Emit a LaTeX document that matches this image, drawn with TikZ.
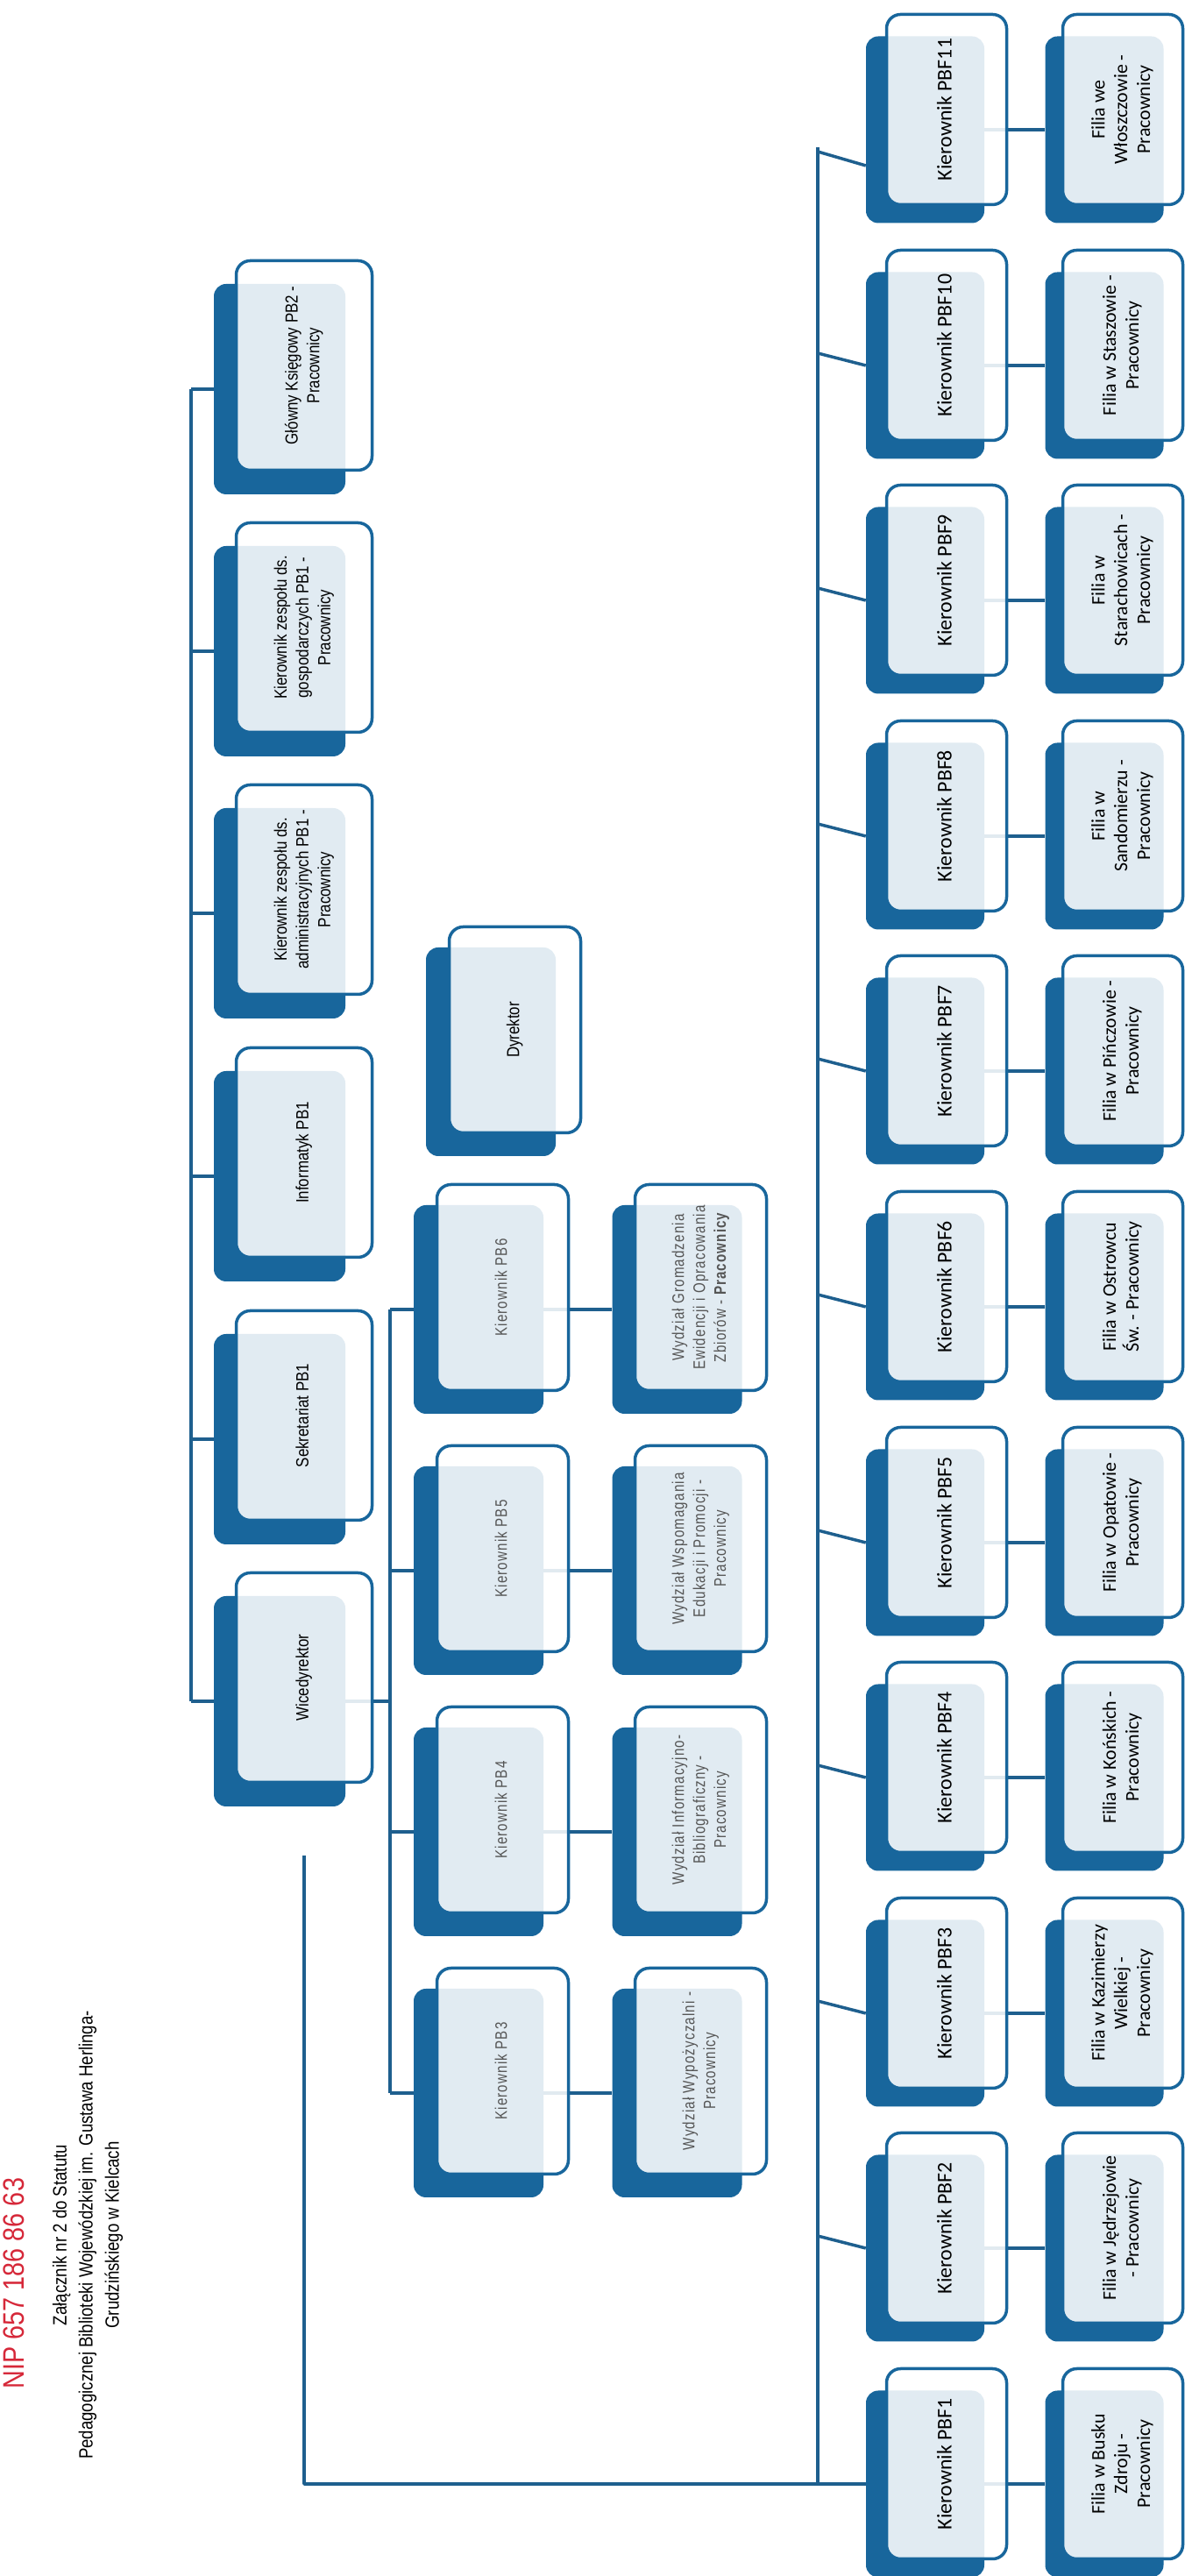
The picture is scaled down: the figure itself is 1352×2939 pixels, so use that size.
\documentclass[tikz,border=0pt]{standalone}
\usepackage{fontspec}
\setmainfont{Liberation Sans}
\newfontfamily\narrowfont[FakeStretch=0.85]{Liberation Sans}
\newfontfamily\thinfont[FakeStretch=0.8,LetterSpace=6]{Liberation Sans}
\newfontfamily\calibfont{Carlito}
\usepackage{graphicx}
\usepackage{tikz}

\definecolor{boxblue}{RGB}{24,102,156}
\definecolor{linkblue}{RGB}{30,95,142}
\definecolor{nipred}{RGB}{214,40,57}
\definecolor{thingray}{RGB}{85,85,85}
\newcommand{\vlab}[1]{\rotatebox{90}{\begin{tabular}{@{}c@{}}#1\end{tabular}}}

\begin{document}
\begin{tikzpicture}[line join=bevel,
  link/.style={draw=linkblue, line width=3.5bp},
  back/.style={fill=boxblue, rounded corners=14bp, inner sep=0pt},
  front/.style={draw=boxblue, line width=3.5bp, fill=white, fill opacity=0.87,
    draw opacity=1, text opacity=1, rounded corners=16bp, inner sep=0pt},
  topback/.style={back, minimum width=150bp, minimum height=240bp},
  topfront/.style={front, minimum width=155bp, minimum height=239bp,
    font=\narrowfont\fontsize{20}{25}\selectfont, text=black},
  pbback/.style={back, minimum width=148bp, minimum height=238bp},
  pbfront/.style={front, minimum width=150bp, minimum height=235bp,
    font=\thinfont\fontsize{19}{24}\selectfont, text=thingray},
  pbfback/.style={back, minimum width=135bp, minimum height=213bp},
  pbffront/.style={front, minimum width=137bp, minimum height=217bp,
    font=\calibfont\fontsize{24}{28}\selectfont, text=black},
  filfront/.style={pbffront, font=\calibfont\fontsize{22}{26}\selectfont}]
\useasboundingbox (0bp,0bp) rectangle (1352bp,2939bp);
%%
\begin{scope}
  \fill[white] (0bp,0bp) -- (0bp,2939bp) -- (1352bp,2939bp) -- (1352bp,0bp) -- cycle;
\end{scope}
%%
  % Header
  \node[rotate=90, font=\narrowfont\fontsize{34}{40}\selectfont, text=nipred] (nip) at (16bp,334bp) {NIP 657 186 86 63};
  \node[rotate=90, align=center, font=\narrowfont\fontsize{22}{30}\selectfont] (zal) at (100bp,389bp)
    {Załącznik nr 2 do Statutu\\Pedagogicznej Biblioteki Wojewódzkiej im. Gustawa Herlinga-\\Grudzińskiego w Kielcach};
%%
  % Back boxes
  % Node: gksieg
  \node[topback] (gksiegb) at (319bp,2495bp) {};
  % Node: kgosp
  \node[topback] (kgospb) at (319bp,2196bp) {};
  % Node: kadm
  \node[topback] (kadmb) at (319bp,1897bp) {};
  % Node: inf
  \node[topback] (infb) at (319bp,1597bp) {};
  % Node: sekr
  \node[topback] (sekrb) at (319bp,1297bp) {};
  % Node: wicedyr
  \node[topback] (wicedyrb) at (319bp,998bp) {};
  % Node: dyr
  \node[pbback] (dyrb) at (560bp,1739bp) {};
  % Node: kpb6 .. kpb3
  \node[pbback] (kpb6b) at (546bp,1445bp) {};
  \node[pbback] (kpb5b) at (546bp,1147bp) {};
  \node[pbback] (kpb4b) at (546bp,849bp) {};
  \node[pbback] (kpb3b) at (546bp,551bp) {};
  % Node: wyd6 .. wyd3
  \node[pbback] (wyd6b) at (772.5bp,1445bp) {};
  \node[pbback] (wyd5b) at (772.5bp,1147bp) {};
  \node[pbback] (wyd4b) at (772.5bp,849bp) {};
  \node[pbback] (wyd3b) at (772.5bp,551bp) {};
  % Node: kpbf11 .. kpbf1
  \node[pbfback] (kpbf11b) at (1055.5bp,2791bp) {};
  \node[pbfback] (kpbf10b) at (1055.5bp,2522bp) {};
  \node[pbfback] (kpbf9b) at (1055.5bp,2254bp) {};
  \node[pbfback] (kpbf8b) at (1055.5bp,1985bp) {};
  \node[pbfback] (kpbf7b) at (1055.5bp,1717bp) {};
  \node[pbfback] (kpbf6b) at (1055.5bp,1448bp) {};
  \node[pbfback] (kpbf5b) at (1055.5bp,1179bp) {};
  \node[pbfback] (kpbf4b) at (1055.5bp,911bp) {};
  \node[pbfback] (kpbf3b) at (1055.5bp,642bp) {};
  \node[pbfback] (kpbf2b) at (1055.5bp,374bp) {};
  \node[pbfback] (kpbf1b) at (1055.5bp,105bp) {};
  % Node: filia11 .. filia1
  \node[pbfback] (filia11b) at (1260bp,2791bp) {};
  \node[pbfback] (filia10b) at (1260bp,2522bp) {};
  \node[pbfback] (filia9b) at (1260bp,2254bp) {};
  \node[pbfback] (filia8b) at (1260bp,1985bp) {};
  \node[pbfback] (filia7b) at (1260bp,1717bp) {};
  \node[pbfback] (filia6b) at (1260bp,1448bp) {};
  \node[pbfback] (filia5b) at (1260bp,1179bp) {};
  \node[pbfback] (filia4b) at (1260bp,911bp) {};
  \node[pbfback] (filia3b) at (1260bp,642bp) {};
  \node[pbfback] (filia2b) at (1260bp,374bp) {};
  \node[pbfback] (filia1b) at (1260bp,105bp) {};
%%
  \coordinate (topbus) at (218bp,2495bp);
  \coordinate (bracket) at (445bp,1445bp);
  \coordinate (bus) at (933bp,2771bp);
  % Edge: top bus
  \draw[link] (topbus |- gksiegb.west) -- (topbus |- wicedyrb.west);
  \draw[link] (topbus |- gksiegb.west) -- (gksiegb.west);
  \draw[link] (topbus |- kgospb.west) -- (kgospb.west);
  \draw[link] (topbus |- kadmb.west) -- (kadmb.west);
  \draw[link] (topbus |- infb.west) -- (infb.west);
  \draw[link] (topbus |- sekrb.west) -- (sekrb.west);
  \draw[link] (topbus |- wicedyrb.west) -- (wicedyrb.west);
  % Edge: wicedyr -> kpb
  \draw[link] (wicedyrb.east) -- (bracket |- wicedyrb.east);
  \draw[link] (bracket |- kpb6b.west) -- (bracket |- kpb3b.west);
  \draw[link] (bracket |- kpb6b.west) -- (kpb6b.west);
  \draw[link] (bracket |- kpb5b.west) -- (kpb5b.west);
  \draw[link] (bracket |- kpb4b.west) -- (kpb4b.west);
  \draw[link] (bracket |- kpb3b.west) -- (kpb3b.west);
  % Edge: kpb -> wyd
  \draw[link] (kpb6b.east) -- (wyd6b.west);
  \draw[link] (kpb5b.east) -- (wyd5b.west);
  \draw[link] (kpb4b.east) -- (wyd4b.west);
  \draw[link] (kpb3b.east) -- (wyd3b.west);
  % Edge: wicedyr -> kpbf
  \draw[link] ([yshift=-56bp]wicedyrb.south -| wicedyrb.east) ++(-47bp,0bp) |- (bus |- kpbf1b.west);
  \draw[link] (bus) -- (bus |- kpbf1b.west);
  \draw[link] (bus) ++(0bp,-5bp) -- ([yshift=-41bp]kpbf11b.west);
  \draw[link] (bus |- kpbf10b.west) ++(0bp,14bp) -- (kpbf10b.west);
  \draw[link] (bus |- kpbf9b.west) ++(0bp,14bp) -- (kpbf9b.west);
  \draw[link] (bus |- kpbf8b.west) ++(0bp,14bp) -- (kpbf8b.west);
  \draw[link] (bus |- kpbf7b.west) ++(0bp,14bp) -- (kpbf7b.west);
  \draw[link] (bus |- kpbf6b.west) ++(0bp,14bp) -- (kpbf6b.west);
  \draw[link] (bus |- kpbf5b.west) ++(0bp,14bp) -- (kpbf5b.west);
  \draw[link] (bus |- kpbf4b.west) ++(0bp,14bp) -- (kpbf4b.west);
  \draw[link] (bus |- kpbf3b.west) ++(0bp,14bp) -- (kpbf3b.west);
  \draw[link] (bus |- kpbf2b.west) ++(0bp,14bp) -- (kpbf2b.west);
  \draw[link] (bus |- kpbf1b.west) -- (kpbf1b.west);
  % Edge: kpbf -> filia
  \draw[link] (kpbf11b.east) -- (filia11b.west);
  \draw[link] (kpbf10b.east) -- (filia10b.west);
  \draw[link] (kpbf9b.east) -- (filia9b.west);
  \draw[link] (kpbf8b.east) -- (filia8b.west);
  \draw[link] (kpbf7b.east) -- (filia7b.west);
  \draw[link] (kpbf6b.east) -- (filia6b.west);
  \draw[link] (kpbf5b.east) -- (filia5b.west);
  \draw[link] (kpbf4b.east) -- (filia4b.west);
  \draw[link] (kpbf3b.east) -- (filia3b.west);
  \draw[link] (kpbf2b.east) -- (filia2b.west);
  \draw[link] (kpbf1b.east) -- (filia1b.west);
%%
  % Front boxes
  \node[topfront] (gksieg) at (347bp,2522bp) {\vlab{Główny Księgowy PB2 -\\Pracownicy}};
  \node[topfront] (kgosp) at (347bp,2223bp) {\vlab{Kierownik zespołu ds.\\gospodarczych PB1 -\\Pracownicy}};
  \node[topfront] (kadm) at (347bp,1924bp) {\vlab{Kierownik zespołu ds.\\administracyjnych PB1 -\\Pracownicy}};
  \node[topfront] (inf) at (347bp,1624bp) {\vlab{Informatyk PB1}};
  \node[topfront] (sekr) at (347bp,1324bp) {\vlab{Sekretariat PB1}};
  \node[topfront] (wicedyr) at (347bp,1025bp) {\vlab{Wicedyrektor}};
  \node[pbfront, font=\narrowfont\fontsize{20}{25}\selectfont, text=black] (dyr) at (587.5bp,1764bp) {\vlab{Dyrektor}};
  \node[pbfront] (kpb6) at (573.5bp,1470bp) {\vlab{Kierownik PB6}};
  \node[pbfront] (kpb5) at (573.5bp,1172bp) {\vlab{Kierownik PB5}};
  \node[pbfront] (kpb4) at (573.5bp,874bp) {\vlab{Kierownik PB4}};
  \node[pbfront] (kpb3) at (573.5bp,576bp) {\vlab{Kierownik PB3}};
  \node[pbfront] (wyd6) at (799.5bp,1470bp) {\vlab{Wydział Gromadzenia\\Ewidencji i Opracowania\\Zbiorów - {\bfseries Pracownicy}}};
  \node[pbfront] (wyd5) at (799.5bp,1172bp) {\vlab{Wydział Wspomagania\\Edukacji i Promocji -\\Pracownicy}};
  \node[pbfront] (wyd4) at (799.5bp,874bp) {\vlab{Wydział Informacyjno-\\Bibliograficzny -\\Pracownicy}};
  \node[pbfront] (wyd3) at (799.5bp,576bp) {\vlab{Wydział Wypożyczalni -\\Pracownicy}};
  \node[pbffront] (kpbf11) at (1080bp,2814bp) {\vlab{Kierownik PBF11}};
  \node[pbffront] (kpbf10) at (1080bp,2545bp) {\vlab{Kierownik PBF10}};
  \node[pbffront] (kpbf9) at (1080bp,2277bp) {\vlab{Kierownik PBF9}};
  \node[pbffront] (kpbf8) at (1080bp,2008bp) {\vlab{Kierownik PBF8}};
  \node[pbffront] (kpbf7) at (1080bp,1740bp) {\vlab{Kierownik PBF7}};
  \node[pbffront] (kpbf6) at (1080bp,1471bp) {\vlab{Kierownik PBF6}};
  \node[pbffront] (kpbf5) at (1080bp,1202bp) {\vlab{Kierownik PBF5}};
  \node[pbffront] (kpbf4) at (1080bp,934bp) {\vlab{Kierownik PBF4}};
  \node[pbffront] (kpbf3) at (1080bp,665bp) {\vlab{Kierownik PBF3}};
  \node[pbffront] (kpbf2) at (1080bp,397bp) {\vlab{Kierownik PBF2}};
  \node[pbffront] (kpbf1) at (1080bp,128bp) {\vlab{Kierownik PBF1}};
  \node[filfront] (filia11) at (1281bp,2814bp) {\vlab{Filia we\\Włoszczowie -\\Pracownicy}};
  \node[filfront] (filia10) at (1281bp,2545bp) {\vlab{Filia w Staszowie -\\Pracownicy}};
  \node[filfront] (filia9) at (1281bp,2277bp) {\vlab{Filia w\\Starachowicach -\\Pracownicy}};
  \node[filfront] (filia8) at (1281bp,2008bp) {\vlab{Filia w\\Sandomierzu -\\Pracownicy}};
  \node[filfront] (filia7) at (1281bp,1740bp) {\vlab{Filia w Pińczowie -\\Pracownicy}};
  \node[filfront] (filia6) at (1281bp,1471bp) {\vlab{Filia w Ostrowcu\\Św. - Pracownicy}};
  \node[filfront] (filia5) at (1281bp,1202bp) {\vlab{Filia w Opatowie -\\Pracownicy}};
  \node[filfront] (filia4) at (1281bp,934bp) {\vlab{Filia w Końskich -\\Pracownicy}};
  \node[filfront] (filia3) at (1281bp,665bp) {\vlab{Filia w Kazimierzy\\Wielkiej -\\Pracownicy}};
  \node[filfront] (filia2) at (1281bp,397bp) {\vlab{Filia w Jędrzejowie\\- Pracownicy}};
  \node[filfront] (filia1) at (1281bp,128bp) {\vlab{Filia w Busku\\Zdroju -\\Pracownicy}};
%
\end{tikzpicture}
\end{document}
